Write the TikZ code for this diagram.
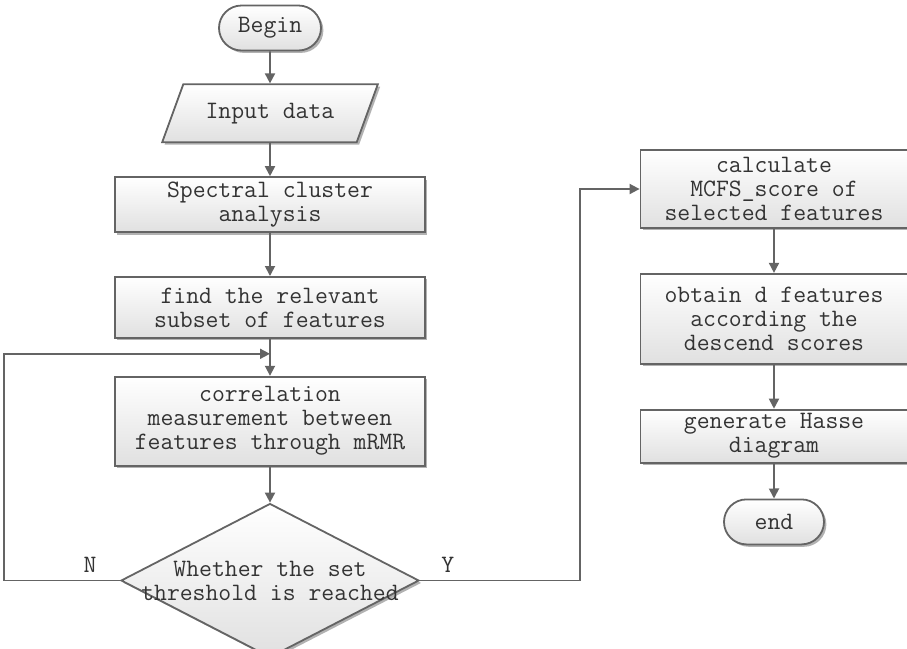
\documentclass[tikz,border=0pt]{standalone}
\usetikzlibrary{
	arrows.meta,
	positioning,
	shapes.geometric,
	shapes.misc,
	shadows,
	calc
}
\definecolor{linegray}{RGB}{100,100,100}

\begin{document}
\begin{tikzpicture}[
			font=\ttfamily\fontsize{12.5}{12}\selectfont,
			text=black!80,
			line width=0.9pt,
			base/.style={
					draw=linegray,
					top color=white,
					bottom color=black!12,
					drop shadow={shadow xshift=1.2pt, shadow yshift=-1.2pt, fill=black!30, opacity=1},
					align=center,
					inner sep=2pt
				},
			passo/.style={base, rectangle, minimum width=155pt},
			terminal/.style={base, rounded rectangle, minimum width=55pt, minimum height=22.5pt},
			entrada/.style={base, trapezium, trapezium left angle=60, trapezium right angle=120,
					trapezium stretches=true, minimum width=108.5pt, minimum height=29pt},
			decisao/.style={base, diamond, inner sep=0pt, minimum width=149pt, minimum height=77pt},
			seta/.style={draw=linegray, -{Triangle[length=5pt, width=5pt]}}
		]
		\useasboundingbox (0,0) rectangle (453.5pt,-324.5pt);

		% coluna da esquerda
		\node[terminal] (inicio) at (135pt,-14pt) {Begin};
		\node[entrada, below=16pt of inicio] (dados) {Input data};
		\node[passo, minimum height=27.5pt, below=16.5pt of dados] (espectral) {Spectral cluster\\analysis};
		\node[passo, minimum height=30.5pt, below=21.5pt of espectral] (subconj) {find the relevant\\subset of features};
		\node[passo, minimum height=44.5pt, below=18.5pt of subconj] (correl) {correlation\\measurement between\\features through mRMR};
		\node[decisao, below=18pt of correl,
			label={[align=center]center:Whether the set\\threshold is reached}] (limiar) {};
		\coordinate (retorno) at ($(subconj.south)+(0,-7.5pt)$);

		% coluna da direita
		\node[passo, minimum width=133.5pt, minimum height=39pt] (pontua) at (387pt,-94.5pt) {calculate\\MCFS\_score of\\selected features};
		\node[passo, minimum width=133.5pt, minimum height=45pt, below=22pt of pontua] (obtem) {obtain d features\\according the\\descend scores};
		\node[passo, minimum width=133.5pt, minimum height=26pt, below=22pt of obtem] (hasse) {generate Hasse\\diagram};
		\node[terminal, minimum width=54pt, below=17.5pt of hasse] (fim) {end};

		\draw[seta] (inicio) -- (dados);
		\draw[seta] (dados) -- (espectral);
		\draw[seta] (espectral) -- (subconj);
		\draw[seta] (subconj) -- (correl);
		\draw[seta] (correl) -- (limiar);
		\draw[seta] (limiar.west) -- node[above, pos=0.26] {N} ++(-58pt,0) |- (retorno);
		\draw[seta] (limiar.east) -- node[above, pos=0.175] {Y} ++(80pt,0) |- (pontua.west);
		\draw[seta] (pontua) -- (obtem);
		\draw[seta] (obtem) -- (hasse);
		\draw[seta] (hasse) -- (fim);
	\end{tikzpicture}
\end{document}
